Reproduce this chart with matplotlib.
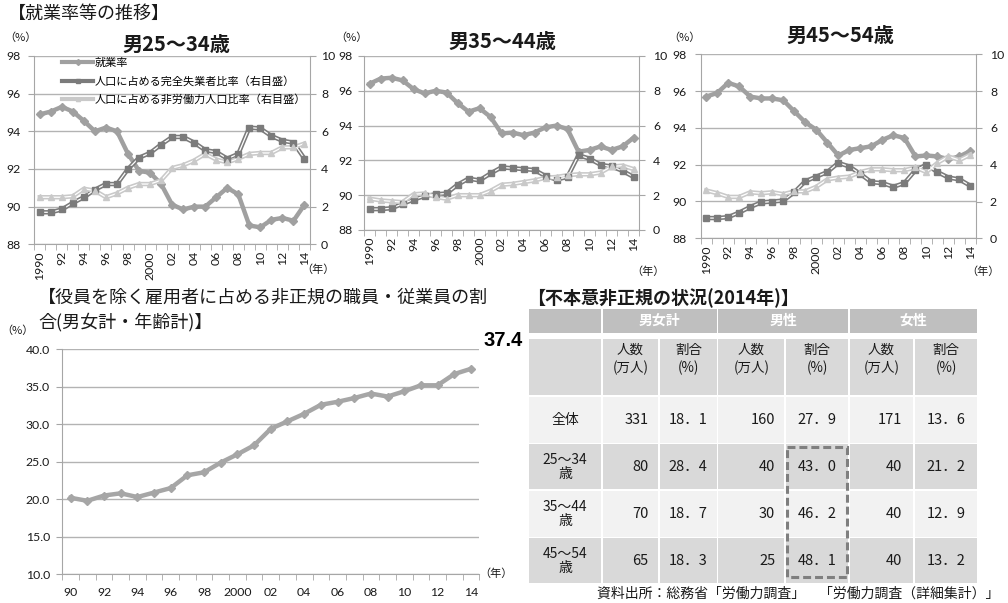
import matplotlib
matplotlib.use('Agg')
import matplotlib.pyplot as plt
import numpy as np
from matplotlib.patches import Rectangle
from matplotlib.lines import Line2D

plt.rcParams['font.family'] = ['Noto Sans CJK JP', 'DejaVu Sans']

# ---------------- data ----------------
years = list(range(1990, 2015))
top_year_labels = ['1990', '92', '94', '96', '98', '2000', '02', '04', '06', '08', '10', '12', '14']
bottom_year_labels = ['90', '92', '94', '96', '98', '2000', '02', '04', '06', '08', '10', '12', '14']

series_names = ['就業率', '人口に占める完全失業者比率（右目盛）', '人口に占める非労働力人口比率（右目盛）']

emp_25_34 = [94.9, 95.05, 95.3, 95.05, 94.55, 94.0, 94.2, 94.0, 92.8, 91.9, 91.8, 91.2, 90.1,
             89.85, 90.0, 90.0, 90.5, 91.0, 90.65, 89.0, 88.9, 89.3, 89.4, 89.25, 90.1]
unemp_25_34 = [1.7, 1.7, 1.85, 2.2, 2.5, 2.9, 3.2, 3.2, 4.0, 4.6, 4.85, 5.3, 5.7,
               5.7, 5.4, 5.0, 4.9, 4.55, 4.8, 6.2, 6.15, 5.75, 5.5, 5.4, 4.55]
nonlab_25_34 = [2.5, 2.5, 2.5, 2.55, 2.95, 2.85, 2.5, 2.7, 3.0, 3.2, 3.2, 3.4, 4.05,
                4.2, 4.45, 4.8, 4.5, 4.35, 4.55, 4.8, 4.85, 4.85, 5.15, 5.15, 5.35]

emp_35_44 = [96.4, 96.7, 96.75, 96.6, 96.1, 95.85, 96.0, 95.9, 95.3, 94.8, 95.0, 94.5, 93.55,
             93.6, 93.45, 93.6, 93.9, 94.0, 93.8, 92.5, 92.6, 92.8, 92.6, 92.8, 93.3]
unemp_35_44 = [1.2, 1.2, 1.25, 1.5, 1.75, 1.95, 2.05, 2.1, 2.6, 2.95, 2.85, 3.25, 3.6,
               3.55, 3.5, 3.45, 3.1, 2.9, 3.05, 4.3, 4.1, 3.75, 3.65, 3.4, 3.05]
nonlab_35_44 = [1.8, 1.7, 1.65, 1.6, 2.05, 2.1, 1.9, 1.8, 2.0, 2.0, 2.0, 2.25, 2.6,
                2.65, 2.75, 2.85, 3.0, 3.05, 3.15, 3.2, 3.2, 3.3, 3.65, 3.7, 3.5]

emp_45_54 = [95.7, 95.9, 96.45, 96.25, 95.7, 95.6, 95.6, 95.5, 94.9, 94.3, 93.9, 93.2, 92.5,
             92.8, 92.9, 93.0, 93.35, 93.6, 93.45, 92.45, 92.5, 92.45, 92.3, 92.45, 92.75]
unemp_45_54 = [1.1, 1.1, 1.15, 1.4, 1.7, 1.95, 2.0, 2.05, 2.5, 3.1, 3.35, 3.6, 4.1,
               3.9, 3.5, 3.05, 3.0, 2.8, 3.0, 3.7, 4.0, 3.6, 3.3, 3.2, 2.85]
nonlab_45_54 = [2.6, 2.45, 2.25, 2.25, 2.5, 2.45, 2.5, 2.4, 2.55, 2.55, 2.8, 3.2, 3.3,
                3.35, 3.6, 3.75, 3.75, 3.7, 3.7, 3.85, 3.6, 4.1, 4.45, 4.25, 4.55]

nonregular_share = [20.2, 19.8, 20.5, 20.8, 20.3, 20.9, 21.5, 23.2, 23.6, 24.9, 26.0, 27.2, 29.4,
                    30.4, 31.4, 32.6, 33.0, 33.5, 34.1, 33.7, 34.4, 35.2, 35.2, 36.7, 37.4]

table_groups = ['男女計', '男性', '女性']
table_subheads = ['人数\n(万人)', '割合\n(%)']
table_rows = ['全体', '25～34\n歳', '35～44\n歳', '45～54\n歳']
count_total = [331, 80, 70, 65]
share_total = [18.1, 28.4, 18.7, 18.3]
count_male = [160, 40, 30, 25]
share_male = [27.9, 43.0, 46.2, 48.1]
count_female = [171, 40, 40, 40]
share_female = [13.6, 21.2, 12.9, 13.2]

# ---------------- style ----------------
W, H = 1008, 603
fig = plt.figure(figsize=(W / 100, H / 100), dpi=100)

grid_c = '#b3b3b3'
spine_c = '#a6a6a6'
emp_c = '#a0a0a0'
unemp_c = '#7b7b7b'
nonlab_c = '#c9c9c9'
txt_c = '#1a1a1a'
num_font = 'Lato'
tick_fs = 8.8


def px_rect(l, t, r, b):
    return [l / W, 1 - b / H, (r - l) / W, (b - t) / H]


ov = fig.add_axes([0, 0, 1, 1], zorder=-1)
ov.set_xlim(0, W)
ov.set_ylim(H, 0)
ov.axis('off')


def double_line(ax, x, y, color, marker, ms):
    ax.plot(x, y, color=color, lw=3.2, solid_joinstyle='round', zorder=3)
    ax.plot(x, y, color='white', lw=0.9, zorder=3.1)
    ax.plot(x, y, ls='none', marker=marker, ms=ms, mfc=color, mec=color, zorder=3.2)


def top_chart(rect, emp, unemp, nonlab, legend=False, lpad=6, rpad=6):
    ax = fig.add_axes(rect)
    ax.set_facecolor('none')
    ax2 = ax.twinx()
    x = np.arange(len(years))
    ax.set_xlim(-0.5, len(years) - 0.5)
    ax.set_ylim(88, 98)
    ax2.set_ylim(0, 10)
    ax.set_yticks(range(88, 99, 2), labels=[str(v) for v in range(88, 99, 2)],
                  fontfamily=num_font, fontsize=tick_fs, color=txt_c)
    ax2.set_yticks(range(0, 11, 2), labels=[str(v) for v in range(0, 11, 2)],
                   fontfamily=num_font, fontsize=tick_fs, color=txt_c)
    ax.grid(axis='y', color=grid_c, lw=1.0)
    ax.set_axisbelow(True)
    ax.set_xticks(np.arange(0, len(years), 2), labels=top_year_labels, rotation=90,
                  fontfamily=num_font, fontsize=tick_fs, color=txt_c)
    ax.set_xticks(np.arange(-0.5, len(years), 1), minor=True)
    ax.tick_params(axis='x', which='major', length=0, pad=5)
    ax.tick_params(axis='x', which='minor', length=4, color=spine_c)
    ax.tick_params(axis='y', length=4, color=spine_c, pad=lpad)
    ax2.tick_params(axis='y', length=4, color=spine_c, pad=rpad)
    ax.spines['top'].set_visible(False)
    ax2.spines['top'].set_visible(False)
    for s in ['left', 'bottom']:
        ax.spines[s].set_color(spine_c)
        ax2.spines[s].set_visible(False)
    ax.spines['right'].set_visible(False)
    ax2.spines['right'].set_color(spine_c)

    ax.plot(x, emp, color=emp_c, lw=3.2, marker='D', ms=4.5, zorder=3)
    double_line(ax2, x, unemp, unemp_c, 's', 4.2)
    double_line(ax2, x, nonlab, nonlab_c, '^', 4.5)

    if legend:
        handles = [Line2D([], [], color=emp_c, lw=3.0, marker='D', ms=3),
                   Line2D([], [], color=unemp_c, lw=3.0, marker='s', ms=3),
                   Line2D([], [], color=nonlab_c, lw=3.0, marker='^', ms=3)]
        ax2.legend(handles, series_names, loc='upper left', bbox_to_anchor=(0.085, 1.012),
                   frameon=False, fontsize=8, handlelength=2.8, handletextpad=0.1,
                   labelspacing=0.68, borderaxespad=0)
    return ax, ax2


top_chart(px_rect(34.3, 56, 310, 244.3), emp_25_34, unemp_25_34, nonlab_25_34, legend=True, rpad=4)
top_chart(px_rect(364, 56, 639, 230), emp_35_44, unemp_35_44, nonlab_35_44, lpad=4)
top_chart(px_rect(700.7, 54.3, 976, 238.3), emp_45_54, unemp_45_54, nonlab_45_54)

# top texts
ov.text(8, 13.5, '【就業率等の推移】', fontsize=13, va='center', ha='left', color=txt_c)
for cx, cy, t in [(176, 44, '男25～34歳'), (502, 41, '男35～44歳'), (840, 35, '男45～54歳')]:
    ov.text(cx, cy, t, fontsize=14.5, fontweight='bold', ha='center', va='center', color=txt_c)
for cx, cy in [(20, 38), (351, 38), (684, 38)]:
    ov.text(cx, cy, '（%）', fontsize=8, ha='center', va='center', color=txt_c)
for cx, cy in [(318, 270), (648, 272), (983, 272)]:
    ov.text(cx, cy, '（年）', fontsize=8, ha='center', va='center', color=txt_c)

# ---------------- bottom-left chart ----------------
axb = fig.add_axes(px_rect(62.3, 349.3, 479.3, 574.3))
axb.set_facecolor('none')
xb = np.arange(len(years))
axb.plot(xb, nonregular_share, color='#a6a6a6', lw=3.2, marker='D', ms=4.5, zorder=3)
axb.set_xlim(-0.5, len(years) - 0.5)
axb.set_ylim(10, 40)
yt = np.arange(10, 41, 5)
axb.set_yticks(yt, labels=['%.1f' % v for v in yt], fontfamily=num_font, fontsize=tick_fs, color=txt_c)
axb.grid(axis='y', color=grid_c, lw=1.0)
axb.set_axisbelow(True)
axb.set_xticks(np.arange(0, len(years), 2), labels=bottom_year_labels,
               fontfamily=num_font, fontsize=tick_fs, color=txt_c)
axb.set_xticks(np.arange(-0.5, len(years), 1), minor=True)
axb.tick_params(axis='x', which='major', length=0, pad=9)
axb.tick_params(axis='x', which='minor', length=4, color=spine_c)
axb.tick_params(axis='y', length=4, color=spine_c, pad=5)
axb.spines['top'].set_visible(False)
axb.spines['right'].set_visible(False)
axb.spines['left'].set_color(spine_c)
axb.spines['bottom'].set_color(spine_c)

ov.text(38, 298, '【役員を除く雇用者に占める非正規の職員・従業員の割', fontsize=13,
        ha='left', va='center', color=txt_c)
ov.text(38, 322, '合(男女計・年齢計)】', fontsize=13, ha='left', va='center', color=txt_c)
ov.text(17, 331, '（%）', fontsize=8, ha='center', va='center', color=txt_c)
ov.text(496, 574, '（年）', fontsize=8, ha='center', va='center', color=txt_c)
ov.text(483, 341, '%.1f' % nonregular_share[-1], fontsize=14.5, fontweight='bold',
        fontfamily='Liberation Sans', ha='left', va='center', color='black')

# ---------------- table ----------------
ov.text(527, 298, '【不本意非正規の状況(2014年)】', fontsize=13, fontweight='bold',
        ha='left', va='center', color=txt_c)

col_l = [529.3, 602.7, 660.0, 718.3, 786.0, 850.0, 915.0]
col_r = [601.0, 658.3, 716.7, 784.3, 848.3, 912.7, 977.3]
row_t = [309.3, 339.3, 396.7, 444.3, 491.0, 538.3]
row_b = [332.7, 395.0, 442.7, 489.3, 536.7, 583.3]
row_fill = ['#bfbfbf', '#d9d9d9', '#f2f2f2', '#d9d9d9', '#f2f2f2', '#d9d9d9']

# header row 1
ov.add_patch(Rectangle((col_l[0], row_t[0]), col_r[0] - col_l[0], row_b[0] - row_t[0],
                       fc=row_fill[0], ec='none'))
for g, name in enumerate(table_groups):
    l = col_l[1 + 2 * g]
    r = col_r[2 + 2 * g]
    ov.add_patch(Rectangle((l, row_t[0]), r - l, row_b[0] - row_t[0], fc=row_fill[0], ec='none'))
    ov.text((l + r) / 2, (row_t[0] + row_b[0]) / 2, name, fontsize=10, fontweight='bold',
            color='white', ha='center', va='center')

for ri in range(1, 6):
    for ci in range(7):
        ov.add_patch(Rectangle((col_l[ci], row_t[ri]), col_r[ci] - col_l[ci], row_b[ri] - row_t[ri],
                               fc=row_fill[ri], ec='none'))

# subheaders
for ci in range(1, 7):
    ov.text((col_l[ci] + col_r[ci]) / 2, (row_t[1] + row_b[1]) / 2 - 8, table_subheads[(ci - 1) % 2],
            fontsize=9.7, ha='center', va='center', color=txt_c, linespacing=1.3)

counts = [count_total, count_male, count_female]
shares = [share_total, share_male, share_female]
cnt_pad = [10, 9, 11]
for ri in range(4):
    rr = ri + 2
    cy = (row_t[rr] + row_b[rr]) / 2
    ov.text((col_l[0] + col_r[0]) / 2, cy, table_rows[ri], fontsize=10, ha='center', va='center',
            color=txt_c, linespacing=1.05)
    for g in range(3):
        cc = 1 + 2 * g
        ov.text(col_r[cc] - cnt_pad[g], cy, str(counts[g][ri]), fontsize=10.5, ha='right',
                va='center', color=txt_c)
        sc = cc + 1
        s = ('%.1f' % shares[g][ri]).replace('.', '．')
        ov.text((col_l[sc] + col_r[sc]) / 2, cy, s, fontsize=10.5, ha='center', va='center',
                color=txt_c)

# dashed highlight box
ov.add_patch(Rectangle((787, 446.5), 846.5 - 787, 576.5 - 446.5, fill=False, ec='#7f7f7f',
                       lw=2.2, ls=(0, (2.6, 1.3))))

ov.text(597, 594, '資料出所：総務省「労働力調査」　「労働力調査（詳細集計）」', fontsize=10,
        ha='left', va='center', color=txt_c)

fig.savefig('out.png', dpi=100)
